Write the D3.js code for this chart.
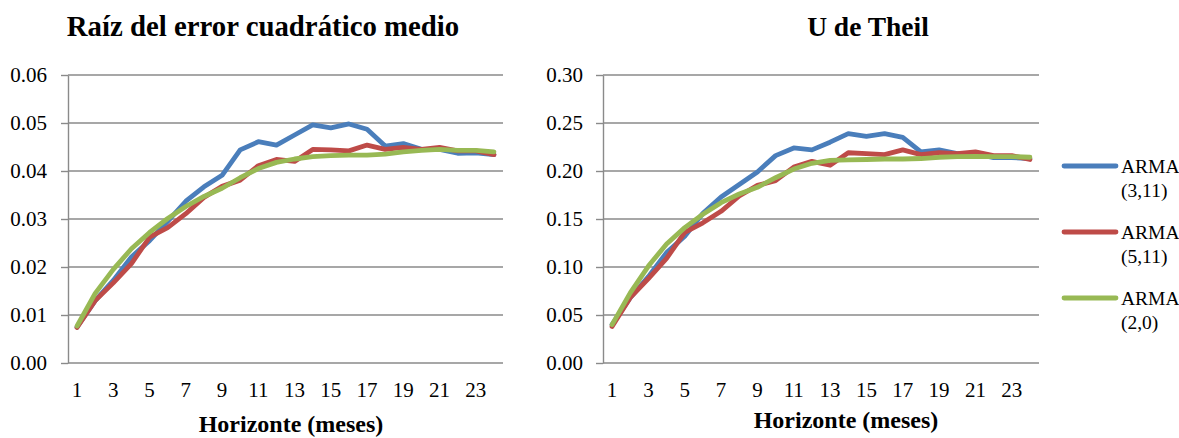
<!DOCTYPE html>
<html>
<head>
<meta charset="utf-8">
<script src="https://cdn.jsdelivr.net/npm/d3@7"></script>
<style>
  html, body { margin: 0; padding: 0; background: #fff; }
  svg { display: block; }
  text { font-family: "Liberation Serif", "Times New Roman", serif; fill: #000; }
</style>
</head>
<body>
<svg id="chart" width="1179" height="438"></svg>
<script>
const horizons = [1,2,3,4,5,6,7,8,9,10,11,12,13,14,15,16,17,18,19,20,21,22,23,24];
const xTickLabels = [1,3,5,7,9,11,13,15,17,19,21,23];

const seriesNames = ["ARMA (3,11)", "ARMA (5,11)", "ARMA (2,0)"];
const seriesLegendLines = [["ARMA", "(3,11)"], ["ARMA", "(5,11)"], ["ARMA", "(2,0)"]];
const seriesColors = ["#4A7EBB", "#BE4B48", "#98B954"];

const rmseArma311 = [0.0075,0.0130,0.0172,0.0221,0.0255,0.0295,0.0337,0.0367,0.0391,0.0444,0.0461,0.0454,0.0475,0.0496,0.0490,0.0498,0.0487,0.0452,0.0457,0.0445,0.0445,0.0437,0.0438,0.0434];
const rmseArma511 = [0.0074,0.0130,0.0167,0.0207,0.0262,0.0282,0.0311,0.0345,0.0368,0.0381,0.0411,0.0424,0.0420,0.0445,0.0444,0.0442,0.0454,0.0445,0.0449,0.0445,0.0449,0.0442,0.0442,0.0434];
const rmseArma20  = [0.0077,0.0145,0.0195,0.0238,0.0272,0.0301,0.0326,0.0347,0.0364,0.0386,0.0405,0.0418,0.0425,0.0430,0.0432,0.0433,0.0433,0.0435,0.0440,0.0443,0.0445,0.0443,0.0443,0.0440];

const theilArma311 = [0.040,0.068,0.090,0.115,0.132,0.156,0.173,0.186,0.199,0.216,0.224,0.222,0.230,0.239,0.236,0.239,0.235,0.220,0.222,0.218,0.218,0.214,0.214,0.213];
const theilArma511 = [0.038,0.068,0.088,0.109,0.136,0.146,0.158,0.174,0.185,0.190,0.204,0.210,0.206,0.219,0.218,0.217,0.222,0.217,0.219,0.218,0.220,0.216,0.216,0.212];
const theilArma20  = [0.040,0.073,0.101,0.124,0.141,0.155,0.167,0.176,0.183,0.193,0.202,0.208,0.211,0.2115,0.212,0.2125,0.2125,0.213,0.2143,0.215,0.2153,0.215,0.215,0.2143];

const rmseTicks = [0,0.01,0.02,0.03,0.04,0.05,0.06];
const theilTicks = [0,0.05,0.10,0.15,0.20,0.25,0.30];

const titles = ["Raíz del error cuadrático medio", "U de Theil"];
const xAxisTitle = "Horizonte (meses)";

const svg = d3.select("#chart");
const gridColor = "#8a8a8a";

function drawPanel(cfg) {
  const g = svg.append("g");
  const x = d3.scaleBand().domain(horizons).range([cfg.left, cfg.right]);
  const y = d3.scaleLinear().domain([0, cfg.ticks[cfg.ticks.length - 1]]).range([363, 75]);
  const cx = d => x(d) + x.bandwidth() / 2;

  // gridlines
  g.append("g").selectAll("line").data(cfg.ticks).join("line")
    .attr("x1", cfg.left).attr("x2", cfg.right)
    .attr("y1", d => y(d)).attr("y2", d => y(d))
    .attr("stroke", gridColor).attr("stroke-width", 1.4);

  // y axis
  const ya = g.append("g").attr("transform", `translate(${cfg.left},0)`)
    .call(d3.axisLeft(y).tickValues(cfg.ticks).tickSize(7).tickSizeOuter(0).tickPadding(cfg.labelPad)
      .tickFormat(d3.format(".2f")));
  ya.select(".domain").attr("stroke", gridColor).attr("stroke-width", 1.4);
  ya.selectAll(".tick line").attr("stroke", gridColor).attr("stroke-width", 1.4);
  ya.selectAll(".tick text").attr("font-size", 21).attr("dy", "0.33em")
    .style("font-family", "'Liberation Serif', serif").attr("fill", "#000");

  // x axis
  const xa = g.append("g").attr("transform", `translate(0,363)`)
    .call(d3.axisBottom(x).tickValues(xTickLabels).tickSize(0));
  xa.select(".domain").remove();
  xa.selectAll(".tick text").attr("font-size", 21).attr("y", 34).attr("dy", null)
    .style("font-family", "'Liberation Serif', serif").attr("fill", "#000");

  // lines
  const line = d3.line().x((d, i) => cx(horizons[i])).y(d => y(d));
  cfg.series.forEach((s, k) => {
    g.append("path").datum(s)
      .attr("d", line)
      .attr("fill", "none")
      .attr("stroke", seriesColors[k])
      .attr("stroke-width", 4.8)
      .attr("stroke-linejoin", "round")
      .attr("stroke-linecap", "round");
  });

  // title
  g.append("text").attr("x", cfg.titleX).attr("y", 36)
    .attr("text-anchor", "middle").attr("font-size", cfg.titleSize).attr("font-weight", "bold")
    .text(cfg.title);
  // x axis title
  g.append("text").attr("x", cfg.xTitleX).attr("y", cfg.xTitleY)
    .attr("text-anchor", "middle").attr("font-size", 24).attr("font-weight", "bold")
    .text(xAxisTitle);
}

drawPanel({left: 68, right: 503, ticks: rmseTicks, labelPad: 14,
  series: [rmseArma311, rmseArma511, rmseArma20], title: titles[0], titleX: 263, titleSize: 28.8,
  xTitleX: 291, xTitleY: 432});
drawPanel({left: 603, right: 1039, ticks: theilTicks, labelPad: 13,
  series: [theilArma311, theilArma511, theilArma20], title: titles[1], titleX: 868, titleSize: 27.5,
  xTitleX: 846, xTitleY: 428});

// legend
const legendY = [166, 232, 298];
const lg = svg.append("g");
seriesLegendLines.forEach((lines, k) => {
  lg.append("line").attr("x1", 1064).attr("x2", 1116)
    .attr("y1", legendY[k]).attr("y2", legendY[k])
    .attr("stroke", seriesColors[k]).attr("stroke-width", 4.8).attr("stroke-linecap", "round");
  lines.forEach((t, j) => {
    lg.append("text").attr("x", 1121).attr("y", legendY[k] + 7 + j * 24)
      .attr("font-size", 19.5).text(t);
  });
});
</script>
</body>
</html>
